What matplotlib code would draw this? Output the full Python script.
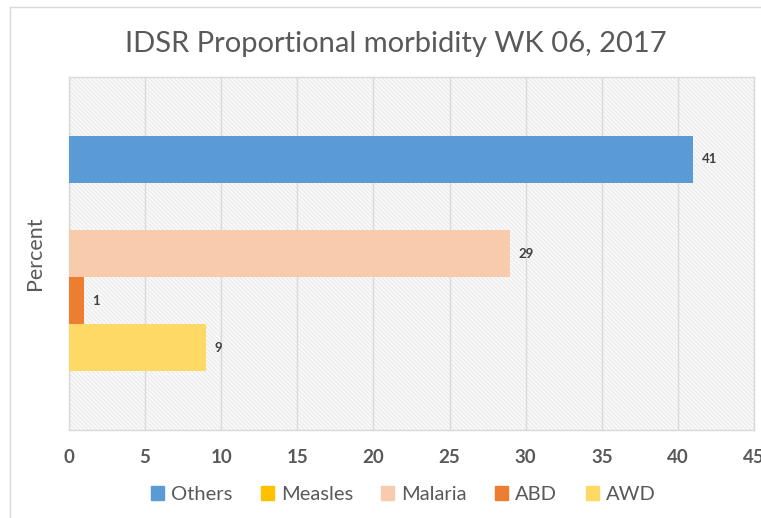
import matplotlib.pyplot as plt
import numpy as np
from matplotlib.patches import Rectangle
from matplotlib.lines import Line2D

series = ["Others", "Measles", "Malaria", "ABD", "AWD"]
values = [41, 0, 29, 1, 9]
colors = ["#5B9BD5", "#FFC000", "#F8CBAD", "#ED7D31", "#FFD966"]
xticks = [0, 5, 10, 15, 20, 25, 30, 35, 40, 45]

plt.rcParams['font.family'] = ['Lato', 'DejaVu Sans']
plt.rcParams['hatch.linewidth'] = 0.6

fig = plt.figure(figsize=(7.61, 5.18), dpi=100)
ax = fig.add_axes([69 / 761, 1 - 430 / 518, (754 - 69) / 761, (430 - 77) / 518])

# hatched background of the plot area
bg = Rectangle((0, 0), 1, 1, transform=ax.transAxes, facecolor="#f9f9f9",
               edgecolor="#e6e6e6", hatch="\\\\\\\\\\\\\\\\", linewidth=0, zorder=0)
ax.add_patch(bg)

bar_h = 1.0
n = len(series)
for i, (name, v, c) in enumerate(zip(series, values, colors)):
    y = (n - 1) / 2 - i
    ax.barh(y, v, height=bar_h, color=c, label=name, zorder=3)
    if v > 0:
        ax.text(v + 0.55, y, str(v), va="center", ha="left", fontsize=9.5,
                fontweight="bold", color="#404040", zorder=4)

ax.set_xlim(0, 45)
ax.set_ylim(-3.75, 3.75)
ax.set_xticks(xticks)
ax.set_yticks([])
ax.grid(axis="x", color="#d9d9d9", linewidth=1, zorder=1)
ax.tick_params(axis="x", length=0, pad=14, labelsize=13.5, labelcolor="#595959")
for lbl in ax.get_xticklabels():
    lbl.set_fontweight("bold")
for s in ax.spines.values():
    s.set_color("#d9d9d9")
    s.set_linewidth(1)

ax.set_ylabel("Percent", fontsize=15.5, color="#595959", labelpad=17)

fig.suptitle("IDSR Proportional morbidity WK 06, 2017", x=0.52, y=0.94,
             fontsize=21, color="#595959")

handles = [Rectangle((0, 0), 1, 1, color=c) for c in colors]
fig.legend(handles, series, loc="center", bbox_to_anchor=(0.53, 0.045), ncol=5,
           frameon=False, fontsize=14.5, labelcolor="#595959", handlelength=0.65,
           handleheight=0.65, handletextpad=0.35, columnspacing=1.4)

# outer chart border
fig.add_artist(Line2D([9.5 / 761, 9.5 / 761], [0, 1 - 7 / 518], transform=fig.transFigure,
                      color="#d9d9d9", linewidth=1))
fig.add_artist(Line2D([9.5 / 761, 1], [1 - 7 / 518, 1 - 7 / 518], transform=fig.transFigure,
                      color="#d9d9d9", linewidth=1))

fig.savefig("out.png", dpi=100)
